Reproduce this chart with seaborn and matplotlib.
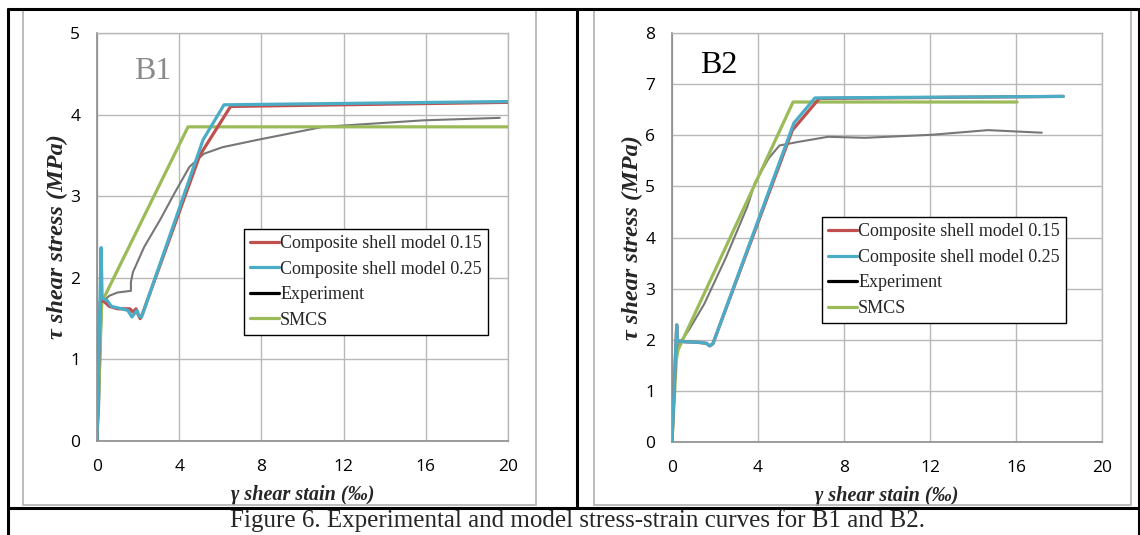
import numpy as np
import pandas as pd
import matplotlib
matplotlib.use("Agg")
import matplotlib.pyplot as plt
from matplotlib.lines import Line2D
from matplotlib.patches import Rectangle
import seaborn as sns

# ---------------- data ----------------
# B1
b1_c15_x = [0, 0.15, 0.3, 0.6, 1.0, 1.6, 1.75, 1.9, 2.0, 2.1, 2.2, 5.0, 6.5, 20]
b1_c15_y = [0, 1.70, 1.72, 1.65, 1.62, 1.62, 1.58, 1.62, 1.55, 1.50, 1.55, 3.50, 4.10, 4.15]
b1_c25_x = [0, 0.2, 0.25, 0.5, 0.7, 1.2, 1.5, 1.7, 1.85, 1.95, 2.05, 2.17, 5.16, 6.18, 20]
b1_c25_y = [0, 2.37, 1.75, 1.72, 1.65, 1.62, 1.60, 1.52, 1.57, 1.60, 1.53, 1.52, 3.69, 4.12, 4.16]
b1_exp_x = [0, 0.1, 0.15, 0.2, 0.25, 0.6, 1.0, 1.65, 1.65, 1.75, 2.3, 3.07, 3.8, 4.5, 5.2, 6.1, 7.8, 11.0, 15.9, 19.6]
b1_exp_y = [0, 0.4, 0.9, 1.4, 1.70, 1.78, 1.82, 1.84, 1.95, 2.07, 2.38, 2.71, 3.05, 3.36, 3.52, 3.60, 3.69, 3.85, 3.93, 3.96]
b1_smcs_x = [0, 0.23, 4.43, 20]
b1_smcs_y = [0, 1.70, 3.85, 3.85]

# B2
b2_c15_x = [0, 0.22, 0.25, 0.6, 1.2, 1.6, 1.75, 1.9, 5.6, 6.85, 18.2]
b2_c15_y = [0, 2.29, 1.98, 1.96, 1.95, 1.93, 1.88, 1.92, 6.10, 6.72, 6.76]
b2_c25_x = [0, 0.22, 0.25, 0.6, 1.2, 1.6, 1.75, 1.9, 5.67, 6.65, 18.2]
b2_c25_y = [0, 2.29, 1.98, 1.96, 1.95, 1.93, 1.88, 1.92, 6.24, 6.73, 6.76]
b2_exp_x = [0, 0.1, 0.2, 0.3, 0.8, 1.5, 2.5, 3.5, 3.86, 4.5, 5.0, 5.87, 7.26, 8.98, 12.1, 14.7, 17.2]
b2_exp_y = [0, 1.0, 1.7, 1.90, 2.2, 2.70, 3.60, 4.60, 5.07, 5.55, 5.80, 5.87, 5.97, 5.95, 6.01, 6.10, 6.05]
b2_smcs_x = [0, 0.2, 0.28, 5.63, 16.05]
b2_smcs_y = [0, 1.6, 1.80, 6.65, 6.65]

series_names = ["Composite shell model 0.15", "Composite shell model 0.25", "Experiment", "SMCS"]
x_ticks = [0, 4, 8, 12, 16, 20]
b1_y_ticks = [0, 1, 2, 3, 4, 5]
b2_y_ticks = [0, 1, 2, 3, 4, 5, 6, 7, 8]
caption = "Figure 6. Experimental and model stress-strain curves for B1 and B2."

# ---------------- styling ----------------
sns.set_theme(style="white")
plt.rcParams["font.family"] = ["Open Sans", "DejaVu Sans"]

colors = {
    series_names[0]: "#C0504D",
    series_names[1]: "#4BACC6",
    series_names[2]: "#777777",
    series_names[3]: "#9BBB59",
}
legend_colors = [colors[series_names[0]], colors[series_names[1]], "black", colors[series_names[3]]]
serif = ["Liberation Serif", "DejaVu Serif"]

W, H = 1140, 535
fig = plt.figure(figsize=(W / 100, H / 100), dpi=100)


def fx(px):
    return px / W


def fy(py):
    return 1 - py / H


def make_df(groups):
    frames = []
    for name, xs, ys in groups:
        frames.append(pd.DataFrame({"x": xs, "y": ys, "series": name, "order": range(len(xs))}))
    return pd.concat(frames, ignore_index=True)


def draw_panel(rect_px, df, yticks, ymax, title, title_color, title_pos, legend_anchor):
    x0, y0, x1, y1 = rect_px  # left, top, right, bottom in pixels
    wpx, hpx = x1 - x0, y1 - y0
    ax = fig.add_axes([fx(x0), fy(y1), fx(wpx), hpx / H])
    draw_order = [series_names[2], series_names[3], series_names[0], series_names[1]]
    for name in draw_order:
        sub = df[df["series"] == name]
        sns.lineplot(data=sub, x="x", y="y", ax=ax, sort=False, estimator=None,
                     color=colors[name], linewidth=1.5 if name == series_names[2] else 2.3,
                     legend=False, zorder=3)
    ax.set_xlim(0, 20)
    ax.set_ylim(0, ymax)
    ax.set_xticks(x_ticks)
    ax.set_yticks(yticks)
    ax.grid(True, color="#b8b8b8", linewidth=1.0, zorder=0)
    ax.set_axisbelow(True)
    for s in ["top", "right"]:
        ax.spines[s].set_color("#b8b8b8")
        ax.spines[s].set_linewidth(1.0)
    for s in ["left", "bottom"]:
        ax.spines[s].set_color("#8c8c8c")
        ax.spines[s].set_linewidth(1.2)
    ax.tick_params(axis="both", length=0, labelsize=12.5, colors="black")
    ax.tick_params(axis="y", pad=12)
    ax.tick_params(axis="x", pad=13)
    ax.set_xlabel("γ shear stain (‰)", fontfamily=serif, fontweight="bold", fontstyle="italic",
                  fontsize=14.5, va="top")
    ax.xaxis.set_label_coords(0.5, -44 / hpx)
    ax.set_ylabel("τ shear stress (MPa)", fontfamily=serif, fontweight="bold", fontstyle="italic",
                  fontsize=17.5)
    ax.yaxis.set_label_coords(-29 / wpx, 0.5)
    ax.text(title_pos[0], title_pos[1], title, transform=ax.transAxes, fontfamily=serif,
            fontsize=23, color=title_color, ha="left", va="center")
    handles = [Line2D([0], [0], color=c, lw=2.3) for c in legend_colors]
    leg = ax.legend(handles, series_names, loc="upper left", bbox_to_anchor=legend_anchor,
                    borderaxespad=0, frameon=True, fancybox=False, framealpha=1,
                    prop={"family": serif, "size": 13}, handlelength=1.6, handletextpad=0.05,
                    labelspacing=0.47, borderpad=0.35)
    leg.get_frame().set_edgecolor("black")
    leg.get_frame().set_linewidth(1.0)
    leg.set_zorder(5)
    return ax


df1 = make_df([(series_names[0], b1_c15_x, b1_c15_y), (series_names[1], b1_c25_x, b1_c25_y),
               (series_names[2], b1_exp_x, b1_exp_y), (series_names[3], b1_smcs_x, b1_smcs_y)])
df2 = make_df([(series_names[0], b2_c15_x, b2_c15_y), (series_names[1], b2_c25_x, b2_c25_y),
               (series_names[2], b2_exp_x, b2_exp_y), (series_names[3], b2_smcs_x, b2_smcs_y)])

draw_panel((97, 33, 508, 441), df1, b1_y_ticks, 5, "B1", "#8a8a8a", (0.09, 0.905), (0.358, 0.52))
draw_panel((672, 33, 1102, 442), df2, b2_y_ticks, 8, "B2", "black", (0.065, 0.92), (0.349, 0.55))

# gray chart-area frames
for (l, t, r, b) in [(23, 10, 536, 505), (594, 10, 1131, 505)]:
    fig.add_artist(Rectangle((fx(l), fy(b)), fx(r - l), (b - t) / H, transform=fig.transFigure,
                             fill=False, edgecolor="#b0b0b0", linewidth=1.2))

# black table borders
blk = dict(color="black", linewidth=2.2, transform=fig.transFigure)
fig.add_artist(Line2D([fx(8), fx(1139)], [fy(9), fy(9)], **blk))
fig.add_artist(Line2D([fx(8), fx(1139)], [fy(508), fy(508)], **blk))
fig.add_artist(Line2D([fx(8), fx(8)], [fy(9), fy(535)], **blk))
fig.add_artist(Line2D([fx(1139), fx(1139)], [fy(9), fy(535)], **blk))
fig.add_artist(Line2D([fx(577), fx(577)], [fy(9), fy(508)], **blk))

fig.text(fx(578), fy(521), caption, fontfamily=serif, fontsize=18, ha="center", va="center")

fig.savefig("out.png", dpi=100)
